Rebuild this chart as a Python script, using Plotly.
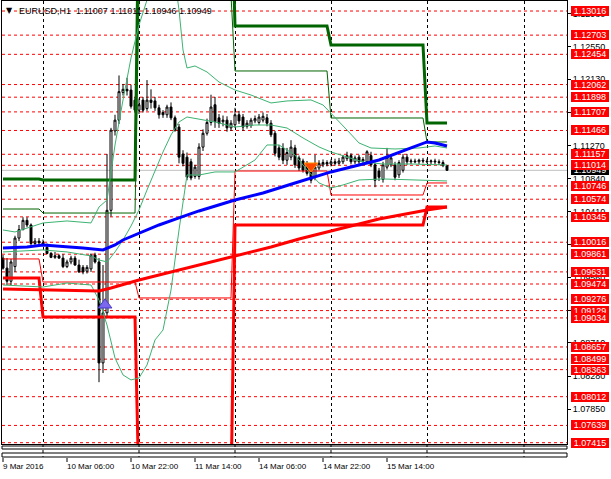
import plotly.graph_objects as go

# ---------------- data ----------------
# EURUSD H1 bars, 9 Mar 2016 14:00 (index 0) .. 16 Mar 2016 05:00 (index 111)
bar_index = list(range(112))
opens = [1.0981, 1.0968, 1.0951, 1.0970, 1.1007, 1.1018, 1.1030, 1.1024, 1.1000, 1.1003,
         1.1001, 1.0995, 1.0987, 1.0982, 1.0984, 1.0981, 1.0970, 1.0976, 1.0981, 1.0972,
         1.0969, 1.0964, 1.0967, 1.0985, 1.0976, 1.0845, 1.0910, 1.1043, 1.1146, 1.1160,
         1.1196, 1.1200, 1.1199, 1.1186, 1.1173, 1.1186, 1.1175, 1.1186, 1.1185, 1.1176,
         1.1170, 1.1167, 1.1177, 1.1163, 1.1151, 1.1116, 1.1112, 1.1106, 1.1087, 1.1087,
         1.1125, 1.1143, 1.1157, 1.1180, 1.1163, 1.1158, 1.1160, 1.1150, 1.1154, 1.1167,
         1.1164, 1.1152, 1.1153, 1.1159, 1.1157, 1.1160, 1.1163, 1.1156, 1.1143, 1.1124,
         1.1124, 1.1108, 1.1112, 1.1124, 1.1111, 1.1107, 1.1103, 1.1099, 1.1086, 1.1098,
         1.1102, 1.1105, 1.1103, 1.1106, 1.1104, 1.1106, 1.1110, 1.1114, 1.1106, 1.1112,
         1.1107, 1.1106, 1.1114, 1.1102, 1.1094, 1.1083, 1.1099, 1.1102, 1.1102, 1.1089,
         1.1095, 1.1112, 1.1106, 1.1107, 1.1106, 1.1108, 1.1107, 1.1106, 1.1107, 1.1106,
         1.1105, 1.11007]
highs = [1.0985, 1.0981, 1.0980, 1.1010, 1.1024, 1.1034, 1.1034, 1.1026, 1.1007, 1.1007,
         1.1005, 1.1000, 1.0989, 1.0989, 1.0986, 1.0986, 1.0979, 1.0984, 1.0984, 1.0979,
         1.0972, 1.0972, 1.0987, 1.0988, 1.0981, 1.0972, 1.1116, 1.1150, 1.1167, 1.1218,
         1.1207, 1.1215, 1.1206, 1.1190, 1.1188, 1.1190, 1.1212, 1.1200, 1.1190, 1.1180,
         1.1173, 1.1180, 1.1183, 1.1166, 1.1155, 1.1121, 1.1118, 1.1110, 1.1102, 1.1130,
         1.1148, 1.1162, 1.1193, 1.1190, 1.1168, 1.1166, 1.1165, 1.1160, 1.1176, 1.1172,
         1.1168, 1.1160, 1.1163, 1.1166, 1.1168, 1.1170, 1.1168, 1.1160, 1.1146, 1.1128,
         1.1130, 1.1124, 1.1134, 1.1128, 1.1114, 1.1110, 1.1107, 1.1102, 1.1115, 1.1108,
         1.1109, 1.1108, 1.1109, 1.1110, 1.1111, 1.1115, 1.1119, 1.1117, 1.1114, 1.1115,
         1.1112, 1.1121, 1.1119, 1.1105, 1.1098, 1.1106, 1.1124, 1.1114, 1.1106, 1.1108,
         1.1116, 1.1116, 1.1110, 1.1110, 1.1110, 1.1111, 1.1110, 1.1109, 1.1110, 1.1109,
         1.1108, 1.11011]
lows = [1.0966, 1.0946, 1.0946, 1.0963, 1.1003, 1.1017, 1.1021, 1.0998, 1.0998, 1.0998,
        1.0997, 1.0986, 1.0981, 1.0980, 1.0980, 1.0968, 1.0968, 1.0973, 1.0971, 1.0962,
        1.0960, 1.0961, 1.0963, 1.0974, 1.0820, 1.0832, 1.0905, 1.1035, 1.1140, 1.1155,
        1.1192, 1.1192, 1.1175, 1.1170, 1.1168, 1.1170, 1.1172, 1.1175, 1.1172, 1.1162,
        1.1163, 1.1163, 1.1160, 1.1145, 1.1104, 1.1100, 1.1082, 1.1082, 1.1084, 1.1083,
        1.1120, 1.1140, 1.1153, 1.1150, 1.1150, 1.1152, 1.1145, 1.1146, 1.1150, 1.1155,
        1.1146, 1.1149, 1.1150, 1.1156, 1.1154, 1.1157, 1.1152, 1.1138, 1.1113, 1.1108,
        1.1103, 1.1102, 1.1108, 1.1098, 1.1094, 1.1092, 1.1088, 1.1078, 1.1082, 1.1095,
        1.1099, 1.1100, 1.1100, 1.1101, 1.1102, 1.1103, 1.1107, 1.1103, 1.1103, 1.1102,
        1.1104, 1.1103, 1.1099, 1.1073, 1.1081, 1.1079, 1.1096, 1.1099, 1.1082, 1.1085,
        1.1092, 1.1102, 1.1103, 1.1104, 1.1103, 1.1104, 1.1104, 1.1103, 1.1103, 1.1102,
        1.1099, 1.10946]
closes = [1.0968, 1.0951, 1.0976, 1.1007, 1.1018, 1.1030, 1.1024, 1.1000, 1.1003, 1.1001,
          1.0999, 1.0987, 1.0982, 1.0984, 1.0981, 1.0970, 1.0976, 1.0981, 1.0972, 1.0963,
          1.0963, 1.0969, 1.0985, 1.0976, 1.0845, 1.0910, 1.1043, 1.1147, 1.1160, 1.1197,
          1.1200, 1.1198, 1.1178, 1.1173, 1.1180, 1.1173, 1.1186, 1.1183, 1.1176, 1.1167,
          1.1167, 1.1177, 1.1163, 1.1147, 1.1112, 1.1104, 1.1086, 1.1085, 1.1099, 1.1125,
          1.1143, 1.1157, 1.1177, 1.1158, 1.1156, 1.1160, 1.1150, 1.1156, 1.1167, 1.1159,
          1.1151, 1.1156, 1.1160, 1.1162, 1.1164, 1.1165, 1.1156, 1.1141, 1.1117, 1.1112,
          1.1108, 1.1118, 1.1125, 1.1102, 1.1098, 1.1095, 1.1091, 1.1082, 1.1099, 1.1104,
          1.1105, 1.1103, 1.1106, 1.1104, 1.1107, 1.1112, 1.1114, 1.1106, 1.1111, 1.1106,
          1.1109, 1.1119, 1.1102, 1.1082, 1.1086, 1.1102, 1.1112, 1.1111, 1.1086, 1.1105,
          1.1112, 1.1106, 1.1107, 1.1106, 1.1108, 1.1107, 1.1106, 1.1107, 1.1106, 1.1105,
          1.1101, 1.10949]

# moving averages (bar index, price)
ma_blue_x = [0, 6, 10, 14, 20, 25, 28, 30, 34, 39, 44, 49, 58, 65, 73, 82, 87, 94, 102, 106, 108, 111]
ma_blue_y = [1.09941, 1.09954, 1.09980, 1.09967, 1.09941, 1.09916, 1.09980, 1.10045, 1.10136, 1.10240,
             1.10331, 1.10422, 1.10564, 1.10655, 1.10785, 1.10928, 1.10992, 1.11083, 1.11239, 1.11317,
             1.11304, 1.11265]
ma_red_x = [0, 10, 20, 24, 27, 31, 34, 39, 49, 58, 67, 74, 84, 94, 106, 111]
ma_red_y = [1.09410, 1.09397, 1.09384, 1.09384, 1.09423, 1.09487, 1.09526, 1.09591, 1.09721, 1.09838,
            1.09954, 1.10058, 1.10188, 1.10318, 1.10434, 1.10473]

# Bollinger bands
bb_up_x = [0, 3, 10, 16, 22, 24, 26, 28, 30, 32, 34, 36, 38, 40, 42, 43, 44, 45, 46, 48, 51, 54, 58,
           62, 67, 71, 77, 80, 82, 86, 89, 92, 98, 104, 108, 111]
bb_up_y = [1.10175, 1.10149, 1.10266, 1.10292, 1.10266, 1.10473, 1.10564, 1.11278, 1.11862, 1.12407,
           1.12835, 1.13159, 1.13483, 1.13678, 1.13613, 1.13418, 1.13029, 1.12510, 1.12277, 1.12303,
           1.12225, 1.12095, 1.11991, 1.11926, 1.11823, 1.11849, 1.11862, 1.11797, 1.11693, 1.11472,
           1.11304, 1.11239, 1.11226, 1.11239, 1.11265, 1.11239]
bb_mid_x = [0, 10, 16, 22, 24, 26, 28, 30, 32, 34, 36, 38, 40, 42, 44, 46, 49, 53, 58, 63, 67, 71,
            75, 79, 82, 86, 90, 95, 102, 111]
bb_mid_y = [1.09890, 1.09916, 1.09890, 1.09838, 1.09786, 1.09760, 1.09890, 1.10045, 1.10227, 1.10434,
            1.10694, 1.10953, 1.11187, 1.11408, 1.11576, 1.11641, 1.11615, 1.11576, 1.11511, 1.11537,
            1.11537, 1.11498, 1.11369, 1.11252, 1.11187, 1.11122, 1.11057, 1.11031, 1.11031, 1.11018]
bb_low_x = [0, 10, 16, 22, 24, 26, 28, 30, 32, 34, 36, 38, 40, 42, 44, 46, 49, 53, 58, 63, 66, 69,
            73, 76, 79, 82, 85, 89, 95, 102, 111]
bb_low_y = [1.09461, 1.09435, 1.09487, 1.09461, 1.09267, 1.08942, 1.08514, 1.08294, 1.08229, 1.08255,
            1.08423, 1.08748, 1.08877, 1.09397, 1.10175, 1.10889, 1.10888, 1.10928, 1.10928, 1.11083,
            1.11278, 1.11278, 1.11148, 1.10953, 1.10785, 1.10720, 1.10759, 1.10824, 1.10837, 1.10824,
            1.10811]

# daily pivot-style levels (9, 10, 11, 14, 15, 16 Mar)
day_start = [0, 10, 34, 58, 82, 106]
day_end = [9, 33, 57, 81, 105, 111]
level_r2 = [1.10837, 1.10824, 1.14680, 1.12822, 1.12575, 1.11563]
level_r1 = [1.10447, 1.10395, 1.13220, 1.12238, 1.11628, 1.11317]
level_s1 = [1.09799, 1.09500, 1.09293, 1.10940, 1.10629, 1.10785]
level_s2 = [1.09552, 1.09046, 1.06760, 1.10240, 1.10240, 1.10473]

# horizontal alert lines (right-hand red labels)
alert_levels = [1.13016, 1.12703, 1.12454, 1.12062, 1.11898, 1.11707, 1.11466, 1.11157, 1.11014,
                1.10746, 1.10574, 1.10345, 1.10016, 1.09861, 1.09631, 1.09474, 1.09276, 1.09129,
                1.09034, 1.08657, 1.08499, 1.08363, 1.08012, 1.07639, 1.07415]
bid_price = 1.10949

# arrows (bar index, price)
buy_arrow = (25.5, 1.09202)
sell_arrow = (77.0, 1.11005)

# axis ticks
price_ticks = [1.07850, 1.08280, 1.08710, 1.09130, 1.09560, 1.09990, 1.10410, 1.10840,
               1.11270, 1.11700, 1.12130, 1.12550, 1.12980]
day_grid = [10, 34, 58, 82, 106, 130.25]
time_label_bars = [0, 16, 32, 48, 64, 80, 96]
time_labels = ["9 Mar 2016", "10 Mar 06:00", "10 Mar 22:00", "11 Mar 14:00",
               "14 Mar 06:00", "14 Mar 22:00", "15 Mar 14:00"]
title_text = "EURUSD,H1  1.11007 1.11011 1.10946 1.10949"

# ---------------- figure ----------------
W, H = 611, 479
ML, MR, MT, MB = 2, 44, 1, 35
FONT = "Liberation Sans"
plot_h = H - MT - MB


def below(py):
    """paper y for a pixel row under the plot area"""
    return -(py - (H - MB)) / plot_h


def steps(levels):
    xs, ys = [], []
    for s, e, v in zip(day_start, day_end, levels):
        xs += [s, e]
        ys += [v, v]
    return xs, ys


fig = go.Figure()

fig.add_trace(go.Candlestick(
    x=bar_index, open=opens, high=highs, low=lows, close=closes,
    increasing=dict(fillcolor="white", line=dict(color="black", width=1)),
    decreasing=dict(fillcolor="black", line=dict(color="black", width=1)),
    whiskerwidth=0, hoverinfo="skip", showlegend=False))

for lv, col, w in [(level_r1, "#006400", 1), (level_s1, "#FF0000", 1),
                   (level_r2, "#006400", 3), (level_s2, "#FF0000", 3)]:
    xs, ys = steps(lv)
    fig.add_trace(go.Scatter(x=xs, y=ys, mode="lines", line=dict(color=col, width=w),
                             hoverinfo="skip", showlegend=False))

for bx, by in [(bb_up_x, bb_up_y), (bb_mid_x, bb_mid_y), (bb_low_x, bb_low_y)]:
    fig.add_trace(go.Scatter(x=bx, y=by, mode="lines", line=dict(color="#3CB371", width=1),
                             hoverinfo="skip", showlegend=False))

fig.add_trace(go.Scatter(x=ma_red_x, y=ma_red_y, mode="lines", line=dict(color="#FF0000", width=3),
                         hoverinfo="skip", showlegend=False))
fig.add_trace(go.Scatter(x=ma_blue_x, y=ma_blue_y, mode="lines", line=dict(color="#0000FF", width=3),
                         hoverinfo="skip", showlegend=False))

fig.add_trace(go.Scatter(x=[buy_arrow[0]], y=[buy_arrow[1]], mode="markers",
                         marker=dict(symbol="triangle-up", size=12, color="#7B68EE",
                                     line=dict(color="#4B3BCB", width=1)),
                         hoverinfo="skip", showlegend=False))
fig.add_trace(go.Scatter(x=[sell_arrow[0]], y=[sell_arrow[1]], mode="markers",
                         marker=dict(symbol="triangle-down", size=12, color="#FF4500",
                                     line=dict(color="#FF8C00", width=1)),
                         hoverinfo="skip", showlegend=False))

# horizontal red dashed alert lines and bid line
for lv in alert_levels:
    fig.add_hline(y=lv, line=dict(color="#FF0000", width=1, dash="3px,3px"), layer="below")
fig.add_hline(y=bid_price, line=dict(color="#C0C0C0", width=1), layer="below")

# price labels on the right
fig.add_annotation(xref="paper", yref="y", x=1, y=bid_price, xanchor="left", yanchor="middle",
                   xshift=4, text=f"{bid_price:.5f}", showarrow=False, bgcolor="black",
                   font=dict(family=FONT, size=9, color="white"), width=38, height=10,
                   borderpad=0, borderwidth=0)
for lv in alert_levels:
    fig.add_annotation(xref="paper", yref="y", x=1, y=lv, xanchor="left", yanchor="middle",
                       xshift=4, text=f"{lv:.5f}", showarrow=False, bgcolor="#FF0000",
                       font=dict(family=FONT, size=9, color="white"), width=38, height=10,
                       borderpad=0, borderwidth=0)

# tiny empty sub-windows under the main chart
for top, bot in [(446, 449), (453, 457)]:
    fig.add_shape(type="rect", xref="paper", yref="paper", x0=0, x1=1,
                  y0=below(top), y1=below(bot),
                  line=dict(color="black", width=1), fillcolor="white")
# day separators continue through the sub-windows
for g in day_grid:
    fig.add_shape(type="line", xref="x", yref="paper", x0=g, x1=g, y0=below(444), y1=below(457),
                  line=dict(color="black", width=1, dash="3px,3px"))

# time labels and their ticks
for b, t in zip(time_label_bars, time_labels):
    fig.add_annotation(xref="x", yref="paper", x=b, y=below(466.5),
                       xanchor="left", yanchor="middle", xshift=-2, text=t, showarrow=False,
                       font=dict(family=FONT, size=8, color="black"))
    fig.add_shape(type="line", xref="x", yref="paper", x0=b, x1=b,
                  y0=below(458), y1=below(462), line=dict(color="black", width=1))

# title
fig.add_annotation(xref="paper", yref="paper", x=(17 - ML) / (W - ML - MR), y=(H - MB - 10.5) / plot_h,
                   xanchor="left", yanchor="middle", text=title_text, showarrow=False,
                   font=dict(family=FONT, size=9, color="black"))
fig.add_annotation(xref="paper", yref="paper", x=(4 - ML) / (W - ML - MR), y=(H - MB - 10.5) / plot_h,
                   xanchor="left", yanchor="middle", text="▼", showarrow=False,
                   font=dict(family="DejaVu Sans", size=8, color="black"))

fig.update_layout(
    width=W, height=H, autosize=False,
    margin=dict(l=ML, r=MR, t=MT, b=MB, pad=0),
    paper_bgcolor="white", plot_bgcolor="white",
    font=dict(family=FONT, size=9, color="black"),
    showlegend=False,
    xaxis=dict(range=[-0.25, 141.0], tickvals=day_grid, showticklabels=False, ticks="",
               showgrid=True, gridcolor="black", gridwidth=1, griddash="3px,3px",
               zeroline=False, showline=True, mirror=True, linecolor="black", linewidth=1,
               rangeslider=dict(visible=False), fixedrange=True),
    yaxis=dict(range=[1.07398, 1.13146], side="right", tickvals=price_ticks,
               ticktext=[f"{v:.5f}" for v in price_ticks], ticks="outside", ticklen=3,
               tickcolor="black", showgrid=False, zeroline=False, showline=True, mirror=True,
               linecolor="black", linewidth=1, tickfont=dict(family=FONT, size=9, color="black"),
               fixedrange=True),
)

fig.write_html("out.html", config={"displayModeBar": False},
               post_script="document.body.style.margin='0';document.body.style.overflow='hidden';")
